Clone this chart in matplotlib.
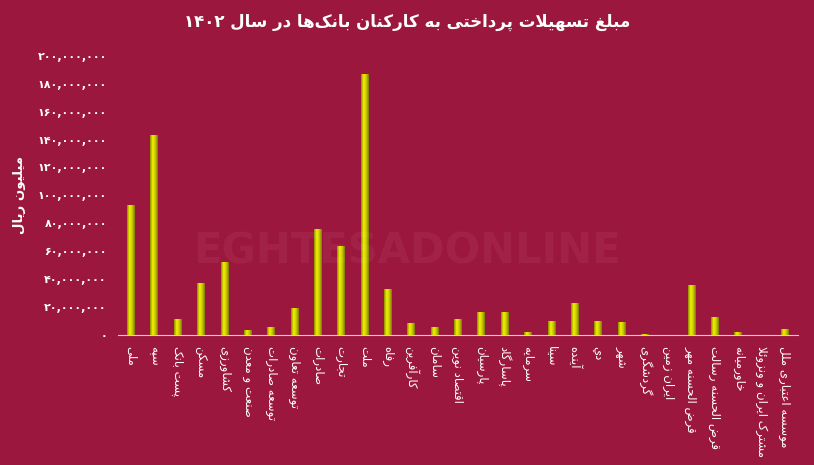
import matplotlib
matplotlib.use("Agg")
import matplotlib.pyplot as plt
import numpy as np
import re
from matplotlib.colors import LinearSegmentedColormap

banks = ["ملی", "سپه", "پست بانک", "مسکن", "کشاورزی", "صنعت و معدن", "توسعه صادرات",
         "توسعه تعاون", "صادرات", "تجارت", "ملت", "رفاه", "کارآفرین", "سامان", "اقتصاد نوین",
         "پارسیان", "پاسارگاد", "سرمایه", "سینا", "آینده", "دي", "شهر", "گردشگری",
         "ایران زمین", "قرض الحسنه مهر", "قرض الحسنه رسالت", "خاورمیانه",
         "مشترک ایران و ونزوئلا", "موسسه اعتباری ملل"]
values = [93e6, 143e6, 11e6, 37e6, 52e6, 3.5e6, 5.5e6, 19e6, 76e6, 64e6, 187e6, 33e6,
          8.5e6, 5.5e6, 11e6, 16e6, 16e6, 2e6, 10e6, 23e6, 10e6, 9e6, 0.7e6, 0,
          36e6, 13e6, 2e6, 0, 4e6]
yticks = list(range(0, 200000001, 20000000))
title = "مبلغ تسهیلات پرداختی به کارکنان بانک\u200cها در سال ۱۴۰۲"
ylabel = "میلیون ریال"

F = {
 'ء': (0xFE80,), 'آ': (0xFE81, 0xFE82), 'ا': (0xFE8D, 0xFE8E), 'ئ': (0xFE89, 0xFE8A, 0xFE8B, 0xFE8C),
 'ب': (0xFE8F, 0xFE90, 0xFE91, 0xFE92), 'ة': (0xFE93, 0xFE94), 'ت': (0xFE95, 0xFE96, 0xFE97, 0xFE98),
 'ث': (0xFE99, 0xFE9A, 0xFE9B, 0xFE9C), 'ج': (0xFE9D, 0xFE9E, 0xFE9F, 0xFEA0),
 'ح': (0xFEA1, 0xFEA2, 0xFEA3, 0xFEA4), 'خ': (0xFEA5, 0xFEA6, 0xFEA7, 0xFEA8),
 'د': (0xFEA9, 0xFEAA), 'ذ': (0xFEAB, 0xFEAC), 'ر': (0xFEAD, 0xFEAE), 'ز': (0xFEAF, 0xFEB0),
 'س': (0xFEB1, 0xFEB2, 0xFEB3, 0xFEB4), 'ش': (0xFEB5, 0xFEB6, 0xFEB7, 0xFEB8),
 'ص': (0xFEB9, 0xFEBA, 0xFEBB, 0xFEBC), 'ض': (0xFEBD, 0xFEBE, 0xFEBF, 0xFEC0),
 'ط': (0xFEC1, 0xFEC2, 0xFEC3, 0xFEC4), 'ظ': (0xFEC5, 0xFEC6, 0xFEC7, 0xFEC8),
 'ع': (0xFEC9, 0xFECA, 0xFECB, 0xFECC), 'غ': (0xFECD, 0xFECE, 0xFECF, 0xFED0),
 'ف': (0xFED1, 0xFED2, 0xFED3, 0xFED4), 'ق': (0xFED5, 0xFED6, 0xFED7, 0xFED8),
 'ك': (0xFED9, 0xFEDA, 0xFEDB, 0xFEDC), 'ل': (0xFEDD, 0xFEDE, 0xFEDF, 0xFEE0),
 'م': (0xFEE1, 0xFEE2, 0xFEE3, 0xFEE4), 'ن': (0xFEE5, 0xFEE6, 0xFEE7, 0xFEE8),
 'ه': (0xFEE9, 0xFEEA, 0xFEEB, 0xFEEC), 'و': (0xFEED, 0xFEEE), 'ي': (0xFEF1, 0xFEF2, 0xFEF3, 0xFEF4),
 'ی': (0xFBFC, 0xFBFD, 0xFBFE, 0xFBFF), 'پ': (0xFB56, 0xFB57, 0xFB58, 0xFB59),
 'چ': (0xFB7A, 0xFB7B, 0xFB7C, 0xFB7D), 'ژ': (0xFB8A, 0xFB8B),
 'ک': (0xFB8E, 0xFB8F, 0xFB90, 0xFB91), 'گ': (0xFB92, 0xFB93, 0xFB94, 0xFB95),
}

def shape(s):
    out = []
    chars = list(s)
    n = len(chars)
    dual = lambda c: c in F and len(F[c]) == 4
    i = 0
    while i < n:
        c = chars[i]
        if c not in F:
            if c != '\u200c':
                out.append(c)
            i += 1
            continue
        prev = chars[i - 1] if i > 0 else ''
        jp = dual(prev)
        if c == 'ل' and i + 1 < n and chars[i + 1] in ('ا', 'آ'):
            base = 0xFEFB if chars[i + 1] == 'ا' else 0xFEF5
            out.append(chr(base + (1 if jp else 0)))
            i += 2
            continue
        nxt = chars[i + 1] if i + 1 < n else ''
        jn = dual(c) and nxt in F
        forms = F[c]
        if len(forms) == 1:
            g = forms[0]
        elif jp and jn:
            g = forms[3]
        elif jp:
            g = forms[1]
        elif jn:
            g = forms[2]
        else:
            g = forms[0]
        out.append(chr(g))
        i += 1
    vis = ''.join(out)[::-1]
    return re.sub(r'[۰-۹0-9,]+', lambda m: m.group(0)[::-1], vis)

def fa_digits(v):
    return f"{v:,}".translate(str.maketrans("0123456789", "۰۱۲۳۴۵۶۷۸۹"))

bg = "#9C173D"
plt.rcParams['font.family'] = ['DejaVu Sans']
fig = plt.figure(figsize=(8.14, 4.65), dpi=100, facecolor=bg)
ax = fig.add_axes([0.145, 0.28, 0.835, 0.60])
ax.set_facecolor(bg)
x = np.arange(len(banks))
bars = ax.bar(x, values, width=0.32, color="#d8d800", zorder=3)
grad = np.linspace(0, 1, 64).reshape(1, -1)
cmap = LinearSegmentedColormap.from_list("g", ["#8a8a00", "#f2f200", "#c8c800", "#7a7a00"])
for b in bars:
    if b.get_height() <= 0:
        continue
    im = ax.imshow(grad, cmap=cmap, aspect='auto', zorder=4,
                   extent=(b.get_x(), b.get_x() + b.get_width(), 0, b.get_height()))
    im.set_clip_path(b)
ax.set_xlim(-0.55, len(banks) - 0.45)
ax.set_ylim(0, 200000000)
ax.set_yticks(yticks)
ax.set_yticklabels([fa_digits(v) for v in yticks], color="white", fontsize=8, fontweight='bold')
ax.set_xticks(x)
ax.set_xticklabels([shape(b) for b in banks], rotation=-90, color="white", fontsize=8.5,
                   va='top', ha='center')
ax.tick_params(length=0, pad=8)
for s in ['top', 'right', 'left']:
    ax.spines[s].set_visible(False)
ax.spines['bottom'].set_color("#e8c8d0")
ax.set_ylabel(shape(ylabel), color="white", fontsize=9.5, fontweight='bold', labelpad=8)
fig.text(0.5, 0.953, shape(title), color="white", fontsize=12, fontweight='bold', ha='center', va='center')
fig.text(0.5, 0.46, "EGHTESADONLINE", color="white", alpha=0.05, fontsize=30, fontweight='bold',
         ha='center', va='center')
fig.savefig("out.png", facecolor=bg)
